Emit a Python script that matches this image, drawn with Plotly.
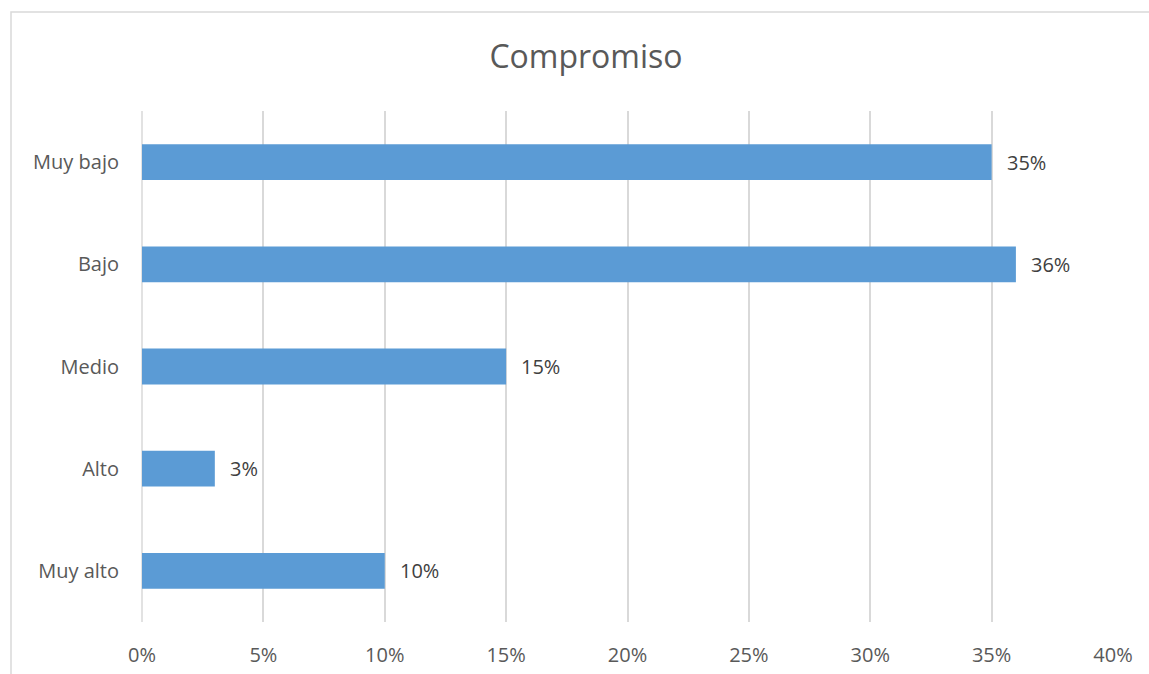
import plotly.graph_objects as go

categories = ["Muy bajo", "Bajo", "Medio", "Alto", "Muy alto"]
values = [0.35, 0.36, 0.15, 0.03, 0.10]
tick_vals = [0, 0.05, 0.10, 0.15, 0.20, 0.25, 0.30, 0.35, 0.40]
tick_text = ["0%", "5%", "10%", "15%", "20%", "25%", "30%", "35%", "40%"]
title_text = "Compromiso"

FONT = "Open Sans"

fig = go.Figure()
fig.add_trace(go.Bar(
    y=categories, x=values, orientation="h",
    marker=dict(color="#5B9BD5", line=dict(width=0)),
    hoverinfo="skip",
))

for c, v in zip(categories, values):
    fig.add_annotation(x=v, y=c, xref="x", yref="y", text=f"{round(v*100)}%",
                       showarrow=False, xanchor="left", xshift=13,
                       font=dict(family=FONT, size=20, color="#404040"))

fig.update_layout(
    width=1149, height=674,
    margin=dict(l=142, r=36, t=111, b=52, autoexpand=False),
    paper_bgcolor="white", plot_bgcolor="white",
    bargap=0.65,
    showlegend=False,
    title=dict(text=title_text, x=586/1149, xref="container", xanchor="center",
               y=1-57/674, yref="container", yanchor="middle",
               font=dict(family=FONT, size=32, color="#595959")),
    xaxis=dict(range=[0, 0.40], tickvals=tick_vals, ticktext=tick_text,
               showgrid=True, gridcolor="#D9D9D9", gridwidth=1.5,
               zeroline=False, showline=False, ticks="", automargin=False,
               ticklabelstandoff=19,
               tickfont=dict(family=FONT, size=20, color="#595959")),
    yaxis=dict(categoryorder="array", categoryarray=categories[::-1],
               showgrid=False, zeroline=False, showline=False, ticks="",
               automargin=False, ticklabelstandoff=22,
               tickfont=dict(family=FONT, size=20, color="#595959")),
    shapes=[
        dict(type="line", xref="paper", yref="paper", x0=0, x1=0, y0=0, y1=1,
             line=dict(color="#D9D9D9", width=1.5), layer="below"),
        dict(type="rect", xref="paper", yref="paper",
             x0=(11-142)/971, x1=(1160-142)/971,
             y0=(622-690)/511, y1=(622-12)/511,
             line=dict(color="#D9D9D9", width=1.5), fillcolor="rgba(0,0,0,0)"),
    ],
)

fig.write_html("out.html")
